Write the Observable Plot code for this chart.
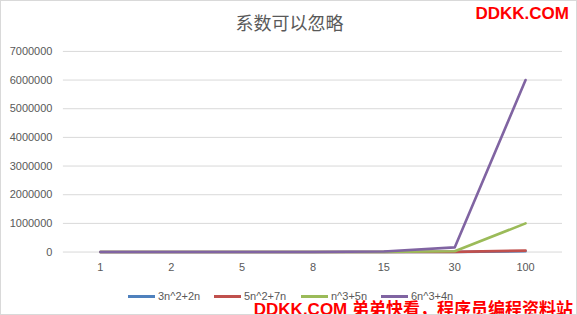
<!DOCTYPE html>
<html><head><meta charset="utf-8">
<script src="https://cdn.jsdelivr.net/npm/d3@7"></script>
<script src="https://cdn.jsdelivr.net/npm/@observablehq/plot@0.6"></script>
<style>
html,body{margin:0;padding:0;background:#fff;}
#wrap{position:relative;width:577px;height:315px;overflow:hidden;box-sizing:border-box;border:1px solid #d9d9d9;font-family:"Liberation Sans",Arial,sans-serif;}
#chart{position:absolute;left:-1px;top:-1px;}
#title{position:absolute;left:0;width:577px;top:9px;text-align:center;font-family:"Noto Sans CJK SC",sans-serif;font-size:18px;color:#595959;line-height:24px;}
.wm{position:absolute;color:#ff0000;font-weight:bold;font-family:"Liberation Sans","Noto Sans CJK SC",sans-serif;white-space:nowrap;}
.lg{position:absolute;top:288px;font-size:11px;color:#595959;white-space:nowrap;line-height:14px;}
.lg span{display:inline-block;width:27px;height:3px;vertical-align:middle;margin-right:3px;position:relative;top:-1px;}
</style></head>
<body><div id="wrap">
<div id="chart"></div>
<div id="title"></div>
<div id="legend"></div>
<div class="wm" style="right:7px;top:3px;font-size:17px;">DDKK.COM</div>
<div class="wm" style="right:3px;top:294px;font-size:17px;">DDKK.COM 弟弟快看，程序员编程资料站</div>
</div>
<script>
const title = "系数可以忽略";
const categories = ["1", "2", "5", "8", "15", "30", "100"];
const seriesNames = ["3n^2+2n", "5n^2+7n", "n^3+5n", "6n^3+4n"];
const seriesColors = ["#4f81bd", "#c0504d", "#9bbb59", "#8064a2"];
const s1 = [5, 16, 85, 208, 705, 2760, 30200];
const s2 = [12, 34, 160, 376, 1230, 4710, 50700];
const s3 = [6, 18, 150, 552, 3450, 27150, 1000500];
const s4 = [10, 56, 770, 3104, 20310, 162120, 6000400];
const yTicks = [0, 1000000, 2000000, 3000000, 4000000, 5000000, 6000000, 7000000];
const legendLeft = [127, 213, 300, 380];

document.getElementById("title").textContent = title;

const allSeries = [s1, s2, s3, s4];
const rows = [];
allSeries.forEach((vals, si) => vals.forEach((v, i) => rows.push({cat: categories[i], value: v, series: seriesNames[si]})));

const plot = Plot.plot({
  width: 577, height: 280,
  marginTop: 51, marginBottom: 28, marginLeft: 63, marginRight: 14,
  style: {fontFamily: "'Liberation Sans', Arial, sans-serif", fontSize: "11px", color: "#595959", background: "transparent"},
  x: {type: "point", domain: categories, padding: 0.5, label: null},
  y: {domain: [0, 7000000], ticks: yTicks, label: null},
  color: {domain: seriesNames, range: seriesColors},
  marks: [
    Plot.ruleY(yTicks, {stroke: "#d9d9d9", strokeWidth: 1}),
    Plot.axisY({ticks: yTicks, tickSize: 0, tickPadding: 11, tickFormat: d => String(d), label: null, fill: "#595959"}),
    Plot.axisX({tickSize: 0, tickPadding: 11, label: null, fill: "#595959"}),
    Plot.line(rows, {x: "cat", y: "value", z: "series", stroke: "series", strokeWidth: 2.6, strokeLinejoin: "round", strokeLinecap: "round"})
  ]
});
document.getElementById("chart").appendChild(plot);

const lg = document.getElementById("legend");
seriesNames.forEach((name, i) => {
  const d = document.createElement("div");
  d.className = "lg";
  d.style.left = legendLeft[i] + "px";
  const sw = document.createElement("span");
  sw.style.background = seriesColors[i];
  d.appendChild(sw);
  d.appendChild(document.createTextNode(name));
  lg.appendChild(d);
});
</script>
</body></html>
